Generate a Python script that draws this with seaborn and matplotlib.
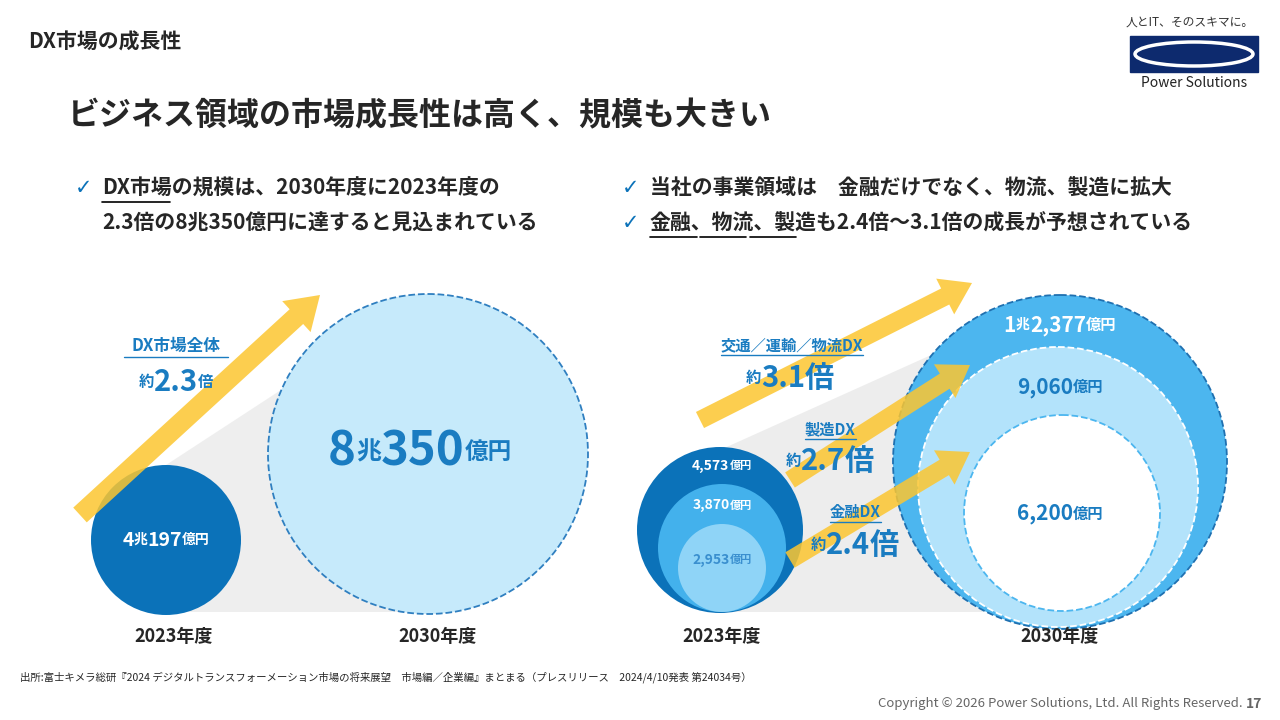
import matplotlib
matplotlib.use("Agg")
import matplotlib.pyplot as plt
import seaborn as sns
from matplotlib.patches import Circle, Polygon, FancyArrow, Rectangle, Ellipse

sns.set_theme(style="white")
plt.rcParams['font.family'] = ['Noto Sans CJK JP', 'DejaVu Sans']

# data
years = ["2023年度", "2030年度"]
total_values = [("4", "兆", "197"), ("8", "兆", "350")]
total_growth = "2.3"
segments = ["金融DX", "製造DX", "交通／運輸／物流DX"]
seg_2023 = ["2,953", "3,870", "4,573"]
seg_2030 = ["6,200", "9,060", "1兆2,377"]
seg_growth = ["2.4", "2.7", "3.1"]

fig = plt.figure(figsize=(12.8, 7.2), dpi=100)
ax = fig.add_axes([0, 0, 1, 1])
ax.set_xlim(0, 1280)
ax.set_ylim(720, 0)
ax.axis("off")

DARK = "#0b72b9"
BLUE_T = "#1a7cc1"


def pieces(x, y, parts, color):
    """draw text pieces left to right, centred on x"""
    r = fig.canvas.get_renderer()
    arts = [ax.text(0, y, t, fontsize=s, weight="bold", color=color, va="center") for t, s in parts]
    widths = [a.get_window_extent(r).width for a in arts]
    cx = x - sum(widths) / 2
    for a, w in zip(arts, widths):
        a.set_x(cx)
        cx += w


# header
ax.text(28, 42, "DX市場の成長性", fontsize=15, weight="bold", va="center")
ax.text(68, 116, "ビジネス領域の市場成長性は高く、規模も大きい", fontsize=23, weight="bold", va="center")
ax.text(1190, 22, "人とIT、そのスキマに。", fontsize=8.5, ha="center", va="center", color="#333")
ax.add_patch(Rectangle((1130, 36), 128, 36, color="#0d2a6e"))
ax.add_patch(Ellipse((1194, 54), 118, 24, fill=False, ec="white", lw=2.5))
ax.text(1194, 83, "Power Solutions", fontsize=10, ha="center", va="center", color="#222")

# bullets
ax.text(75, 188, "✓", fontsize=15, color=DARK, va="center", family="DejaVu Sans")
ax.text(102, 188, "DX市場の規模は、2030年度に2023年度の", fontsize=15, weight="bold", va="center")
ax.plot([102, 170], [202, 202], color="black", lw=1.2)
ax.text(102, 223, "2.3倍の8兆350億円に達すると見込まれている", fontsize=15, weight="bold", va="center")
ax.text(622, 188, "✓", fontsize=15, color=DARK, va="center", family="DejaVu Sans")
ax.text(650, 188, "当社の事業領域は　金融だけでなく、物流、製造に拡大", fontsize=15, weight="bold", va="center")
ax.text(622, 223, "✓", fontsize=15, color=DARK, va="center", family="DejaVu Sans")
ax.text(650, 223, "金融、物流、製造も2.4倍～3.1倍の成長が予想されている", fontsize=15, weight="bold", va="center")
for x0, x1 in [(650, 697), (700, 746), (750, 796)]:
    ax.plot([x0, x1], [237, 237], color="black", lw=1.2)

# shadows
ax.add_patch(Polygon([[166, 612], [166, 465], [428, 294], [428, 612]], color="#e8e8e8", alpha=0.7, lw=0))
ax.add_patch(Polygon([[720, 612], [720, 450], [1060, 297], [1060, 612]], color="#e6e6e6", alpha=0.7, lw=0))

# left circles
ax.add_patch(Circle((428, 454), 160, fc="#c6eafb", ec="#2f7fc0", ls="--", lw=1.3))
ax.add_patch(Circle((166, 540), 75, fc=DARK, ec="none"))
v = total_values[0]
pieces(166, 540, [(v[0], 14), (v[1], 10), (v[2], 14), ("億円", 10)], "white")
v = total_values[1]
pieces(420, 452, [(v[0], 34), (v[1], 18), (v[2], 34), ("億円", 17)], BLUE_T)

# left arrow
ax.add_patch(FancyArrow(80, 515, 240, -220, width=20, head_width=42, head_length=32,
                        color="#fcc630", alpha=0.85, lw=0, length_includes_head=True))
ax.text(176, 346, "DX市場全体", fontsize=12, weight="bold", color=BLUE_T, ha="center", va="center")
ax.plot([124, 228], [357, 357], color=BLUE_T, lw=1)
pieces(176, 382, [("約", 11), (total_growth, 21), ("倍", 11)], BLUE_T)

# right 2030 circles
ax.add_patch(Circle((1060, 462), 167, fc="#4cb6ef", ec="#1f70b0", ls="--", lw=1.3))
ax.add_patch(Circle((1058, 487), 140, fc="#b3e3fb", ec="white", ls="--", lw=1.3))
ax.add_patch(Circle((1062, 513), 98, fc="white", ec="#4cb6ef", ls="--", lw=1.3))
# right 2023 circles
ax.add_patch(Circle((720, 530), 83, fc=DARK, ec="none"))
ax.add_patch(Circle((722, 548), 64, fc="#43b1ec", ec="none"))
ax.add_patch(Circle((722, 568), 44, fc="#8fd4f7", ec="none"))

pieces(722, 466, [(seg_2023[2], 10), ("億円", 8)], "white")
pieces(722, 505, [(seg_2023[1], 10), ("億円", 8)], "white")
pieces(722, 560, [(seg_2023[0], 10), ("億円", 8)], "#3a8fcf")
pieces(1060, 325, [("1", 15), ("兆", 10), (seg_2030[2][2:], 15), ("億円", 11)], "white")
pieces(1060, 387, [(seg_2030[1], 15), ("億円", 11)], BLUE_T)
pieces(1060, 514, [(seg_2030[0], 15), ("億円", 11)], BLUE_T)

# right arrows
arrows = [((790, 560), (970, 452)), ((790, 480), (970, 365)), ((700, 420), (972, 283))]
label_pos = [(855, 512, 855, 545), (830, 429, 830, 461), (792, 345, 790, 378)]
for (s, e), (lx, ly, gx, gy), seg, g in zip(arrows, label_pos, segments, seg_growth):
    ax.add_patch(FancyArrow(s[0], s[1], e[0] - s[0], e[1] - s[1], width=18, head_width=40,
                            head_length=30, color="#fcc630", alpha=0.85, lw=0,
                            length_includes_head=True))
    t = ax.text(lx, ly, seg, fontsize=11, weight="bold", color=BLUE_T, ha="center", va="center")
    w = t.get_window_extent(fig.canvas.get_renderer()).width / 2
    ax.plot([lx - w, lx + w], [ly + 10, ly + 10], color=BLUE_T, lw=1)
    pieces(gx, gy, [("約", 11), (g, 21), ("倍", 21)], BLUE_T)

# years
for x, y in zip([174, 438, 722, 1060], years * 2):
    ax.text(x, 637, y, fontsize=13, weight="bold", ha="center", va="center")

ax.text(20, 677, "出所:富士キメラ総研『2024 デジタルトランスフォーメーション市場の将来展望　市場編／企業編』まとまる（プレスリリース　2024/4/10発表 第24034号）",
        fontsize=7.5, va="center")
ax.text(1243, 704, "Copyright © 2026 Power Solutions, Ltd. All Rights Reserved.", fontsize=9.5,
        ha="right", va="center", color="#666")
ax.text(1262, 704, "17", fontsize=10, weight="bold", ha="right", va="center", color="#666")

fig.savefig("out.png", dpi=100)
